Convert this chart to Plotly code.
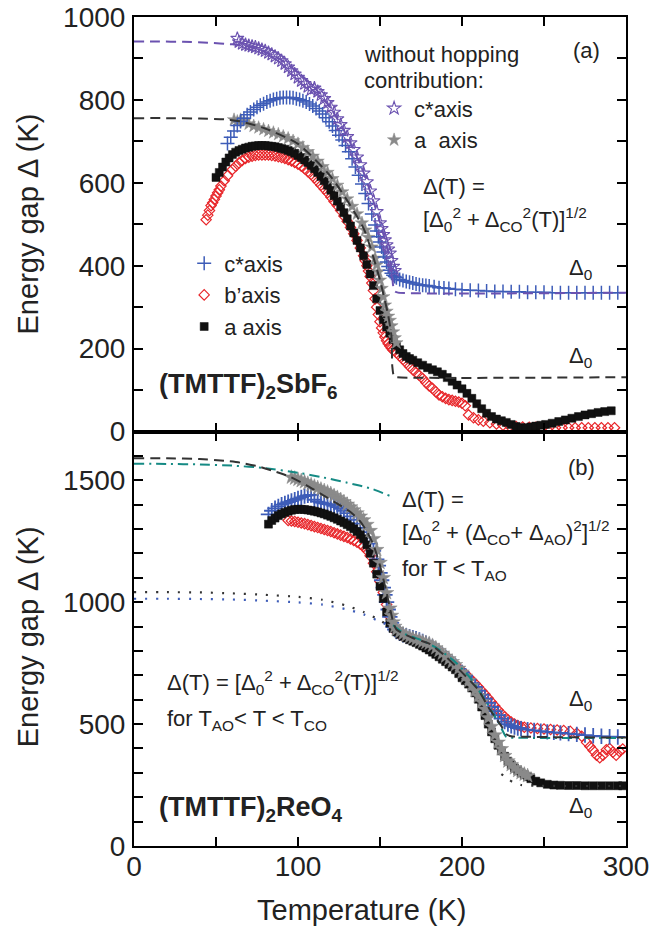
import plotly.graph_objects as go
from plotly.subplots import make_subplots

# ---------------- (a) (TMTTF)2SbF6 ----------------
# c* axis, measured (T [K], gap [K])
sbf6_cstar = [
    (57, 695), (59, 710), (61, 725), (63, 738), (65, 748), (67, 756), (69, 764), (71, 771),
    (73, 777), (75, 782), (77, 787), (79, 791), (81, 795), (83, 798), (85, 801), (87, 803),
    (89, 805), (91, 806), (93, 806), (95, 806), (97, 805), (99, 803), (101, 801), (103, 798),
    (105, 795), (107, 790), (109, 785), (111, 779), (113, 773), (115, 766), (117, 757), (119, 747),
    (121, 737), (123, 726), (125, 715), (127, 703), (129, 690), (131, 675), (133, 658), (135, 638),
    (137, 618), (139, 597), (141, 574), (143, 550), (145, 525), (147, 498), (148, 484), (149, 470),
    (150, 457), (151, 445), (152, 433), (153, 421), (154, 409), (155, 398), (156, 389), (157, 382),
    (158, 377), (159, 374), (160, 371), (162, 367), (164, 364), (166, 362), (168, 360), (170, 358),
    (172, 356), (174, 354), (176, 353), (178, 352), (180, 351), (183, 349), (186, 347), (189, 346),
    (192, 345), (196, 343), (200, 342), (205, 341), (210, 340), (215, 339), (220, 338), (225, 338),
    (230, 337), (235, 337), (240, 336), (245, 336), (250, 336), (255, 335), (260, 335), (265, 335),
    (270, 335), (275, 335), (280, 335), (285, 335), (290, 335), (295, 335),
]
# b' axis, measured
sbf6_bprime = [
    (44, 511), (45, 522), (46, 533), (47, 545), (48, 552), (49, 560), (50, 568), (51, 576),
    (52, 583), (53, 592), (55, 605), (57, 617), (60, 632), (62, 640), (64, 648), (66, 654),
    (68, 659), (70, 662), (72, 664), (74, 666), (76, 667), (78, 667), (80, 667), (82, 667),
    (84, 666), (86, 665), (88, 663), (90, 661), (92, 659), (94, 656), (96, 653), (98, 649),
    (100, 645), (102, 640), (104, 634), (106, 627), (108, 620), (110, 612), (112, 603), (114, 594),
    (116, 585), (118, 576), (120, 566), (122, 555), (124, 545), (126, 533), (128, 520), (130, 507),
    (132, 492), (134, 477), (136, 461), (138, 443), (140, 424), (141, 412), (142, 400), (143, 387),
    (144, 374), (145, 358), (146, 340), (147, 320), (148, 300), (149, 282), (150, 265), (151, 250),
    (152, 238), (153, 228), (154, 219), (155, 212), (156, 206), (157, 201), (158, 196), (160, 190),
    (162, 182), (164, 174), (166, 166), (168, 157), (170, 149), (172, 142), (174, 135), (176, 128),
    (178, 118), (180, 110), (182, 104), (184, 96), (186, 88), (188, 84), (190, 80), (192, 77),
    (194, 75), (196, 73), (198, 71), (200, 68), (202, 62), (204, 40), (207, 33), (210, 28),
    (213, 25), (217, 21), (221, 18), (225, 15), (229, 13), (233, 12), (237, 11), (241, 10),
    (245, 10), (249, 9), (253, 9), (257, 9), (261, 9), (265, 9), (269, 9), (273, 9),
    (277, 9), (281, 9), (285, 9), (289, 9), (293, 9),
]
# a axis, measured
sbf6_a = [
    (50, 613), (52, 625), (54, 638), (56, 650), (58, 660), (60, 668), (62, 674), (64, 678),
    (66, 681), (68, 684), (70, 686), (72, 688), (74, 689), (76, 690), (78, 690), (80, 690),
    (82, 689), (84, 688), (86, 687), (88, 685), (90, 683), (92, 681), (94, 678), (96, 675),
    (98, 671), (100, 666), (102, 661), (104, 655), (106, 649), (108, 642), (110, 634), (112, 625),
    (114, 615), (116, 605), (118, 594), (120, 582), (122, 569), (124, 556), (126, 542), (128, 528),
    (130, 513), (132, 496), (134, 479), (136, 461), (138, 443), (140, 424), (142, 403), (144, 380),
    (146, 352), (148, 320), (150, 292), (152, 270), (154, 252), (156, 237), (158, 222), (160, 208),
    (162, 197), (164, 188), (166, 181), (168, 176), (170, 172), (173, 166), (176, 160), (179, 154),
    (182, 149), (185, 144), (188, 138), (191, 130), (194, 121), (197, 112), (200, 103), (203, 92),
    (206, 80), (209, 67), (212, 55), (215, 44), (218, 36), (221, 30), (224, 26), (227, 22),
    (230, 17), (233, 12), (236, 9), (239, 9), (242, 11), (245, 13), (248, 15), (251, 17),
    (255, 20), (259, 24), (263, 28), (267, 32), (271, 36), (275, 40), (279, 43), (283, 46),
    (287, 48), (291, 50),
]
# without hopping contribution: c* axis
sbf6_cstar_nohop = [
    (63, 948), (64, 940), (66, 936), (68, 933), (70, 931), (72, 929), (74, 927), (76, 924),
    (78, 921), (80, 918), (82, 914), (84, 910), (86, 905), (88, 900), (90, 894), (92, 887),
    (94, 879), (96, 870), (98, 862), (100, 854), (102, 846), (104, 839), (106, 832), (108, 825),
    (110, 828), (112, 820), (114, 812), (116, 803), (118, 793), (120, 782), (122, 770), (124, 754),
    (126, 740), (128, 726), (130, 711), (132, 696), (134, 680), (136, 662), (138, 643), (140, 623),
    (142, 602), (144, 580), (146, 556), (148, 530), (150, 503), (151, 489), (152, 475), (153, 462),
    (154, 450), (155, 440), (156, 430), (157, 412), (158, 398), (159, 388),
]
# without hopping contribution: a axis
sbf6_a_nohop = [
    (61, 752), (63, 748), (65, 752), (67, 748), (70, 742), (73, 737), (76, 733), (79, 729),
    (82, 725), (85, 721), (88, 717), (91, 712), (94, 707), (97, 701), (100, 694), (103, 685),
    (106, 675), (109, 664), (112, 652), (115, 639), (118, 625), (121, 610), (124, 594), (127, 578),
    (130, 561), (133, 543), (136, 525), (139, 503), (141, 486), (143, 468), (145, 445), (147, 418),
    (148, 402), (149, 385), (150, 365), (151, 345), (152, 325), (153, 305), (154, 290), (155, 278),
    (156, 268), (157, 255), (158, 240), (159, 226), (160, 214),
]
# fits  Delta(T) = [Delta0^2 + Delta_CO^2(T)]^1/2
sbf6_fit_cstar = [
    (0, 941), (15, 941), (30, 940), (45, 938), (60, 934), (70, 928), (80, 916), (90, 896),
    (100, 866), (110, 830), (120, 780), (130, 712), (140, 625), (150, 505), (155, 432),
    (157, 395), (158, 352), (159, 338), (161, 335), (300, 335),
]
sbf6_fit_a = [
    (0, 756), (20, 756), (40, 755), (55, 753), (65, 748), (80, 731), (100, 694), (120, 615),
    (140, 490), (150, 365), (155, 280), (157, 229), (157.5, 157), (158.5, 133), (160, 131),
    (300, 131),
]

# ---------------- (b) (TMTTF)2ReO4 ----------------
reo4_cstar = [
    (82, 1360), (84, 1375), (86, 1385), (88, 1393), (90, 1400), (92, 1405), (94, 1410), (96, 1415),
    (98, 1420), (100, 1425), (102, 1430), (104, 1435), (106, 1438), (108, 1440), (110, 1420),
    (112, 1412), (114, 1408), (116, 1405), (118, 1402), (120, 1400), (122, 1395), (124, 1390),
    (126, 1383), (128, 1375), (130, 1365), (132, 1352), (134, 1338), (136, 1322), (138, 1305),
    (140, 1287), (142, 1265), (144, 1240), (146, 1210), (148, 1175), (149, 1150), (150, 1120),
    (151, 1090), (152, 1060), (153, 1030), (154, 1000), (155, 970), (156, 940), (157, 915),
    (158, 898), (159, 888), (160, 880), (162, 872), (164, 866), (166, 862), (168, 858), (170, 854),
    (172, 850), (174, 845), (176, 839), (178, 832), (180, 824), (182, 815), (184, 805), (186, 795),
    (188, 784), (190, 773), (192, 762), (194, 750), (196, 738), (198, 725), (200, 712), (202, 698),
    (204, 683), (206, 668), (208, 653), (210, 637), (212, 621), (214, 604), (216, 587), (218, 570),
    (220, 553), (222, 537), (224, 522), (226, 510), (228, 500), (230, 493), (232, 488), (234, 484),
    (236, 481), (240, 477), (244, 474), (248, 471), (252, 468), (256, 466), (260, 464), (265, 461),
    (270, 458), (275, 455), (280, 452), (285, 450), (290, 448), (295, 447),
]
reo4_bprime = [
    (94, 1335), (96, 1333), (98, 1331), (100, 1328), (102, 1325), (104, 1322), (106, 1318),
    (108, 1314), (110, 1310), (112, 1306), (114, 1302), (116, 1298), (118, 1294), (120, 1290),
    (122, 1285), (124, 1280), (126, 1275), (128, 1270), (130, 1265), (132, 1259), (134, 1253),
    (136, 1246), (138, 1238), (140, 1228), (142, 1212), (144, 1190), (146, 1160), (148, 1125),
    (150, 1085), (152, 1040), (154, 990), (156, 940), (158, 900), (160, 878), (162, 868),
    (164, 862), (166, 858), (168, 854), (170, 850), (172, 846), (174, 842), (176, 836), (178, 829),
    (180, 821), (182, 812), (184, 803), (186, 793), (188, 783), (190, 773), (192, 763), (194, 752),
    (196, 741), (198, 730), (200, 718), (202, 706), (204, 693), (206, 680), (208, 666), (210, 652),
    (212, 637), (214, 622), (216, 606), (218, 590), (220, 574), (222, 558), (224, 543), (226, 530),
    (228, 518), (230, 508), (232, 500), (234, 494), (236, 490), (238, 487), (242, 484), (246, 482),
    (250, 480), (254, 478), (258, 476), (262, 474), (266, 470), (270, 462), (273, 450), (276, 425),
    (278, 408), (280, 392), (282, 372), (284, 362), (286, 372), (288, 395), (290, 400), (292, 385),
    (294, 372), (296, 388), (298, 398),
]
reo4_a = [
    (82, 1320), (84, 1335), (86, 1345), (88, 1355), (90, 1362), (92, 1368), (94, 1373), (96, 1377),
    (98, 1380), (100, 1381), (102, 1381), (104, 1380), (106, 1378), (108, 1376), (110, 1373),
    (112, 1370), (114, 1366), (116, 1362), (118, 1357), (120, 1352), (122, 1346), (124, 1340),
    (126, 1333), (128, 1326), (130, 1318), (132, 1310), (134, 1301), (136, 1290), (138, 1277),
    (140, 1260), (142, 1235), (144, 1200), (146, 1160), (148, 1115), (150, 1065), (152, 1015),
    (154, 960), (156, 915), (158, 892), (160, 878), (162, 868), (164, 860), (166, 853), (168, 846),
    (170, 840), (172, 834), (174, 827), (176, 820), (178, 812), (180, 804), (182, 795), (184, 786),
    (186, 776), (188, 766), (190, 756), (192, 745), (194, 734), (196, 723), (198, 707), (200, 690),
    (202, 678), (204, 664), (206, 648), (208, 628), (210, 602), (212, 570), (214, 535), (216, 500),
    (218, 468), (220, 440), (222, 413), (224, 390), (226, 368), (228, 348), (230, 333), (232, 320),
    (234, 309), (236, 300), (238, 292), (240, 284), (242, 276), (245, 266), (248, 259), (252, 253),
    (256, 250), (260, 249), (265, 248), (270, 248), (275, 247), (280, 247), (285, 247), (290, 247),
    (295, 247), (298, 247),
]
reo4_a_nohop = [
    (96, 1512), (98, 1508), (100, 1503), (102, 1498), (104, 1493), (106, 1487), (108, 1481),
    (110, 1475), (112, 1469), (114, 1463), (116, 1457), (118, 1451), (120, 1445), (122, 1437),
    (124, 1429), (126, 1420), (128, 1411), (130, 1401), (132, 1390), (134, 1378), (136, 1365),
    (138, 1352), (140, 1337), (142, 1318), (144, 1293), (146, 1260), (148, 1215), (150, 1162),
    (152, 1100), (154, 1038), (156, 975), (157, 945), (158, 918), (159, 900), (160, 888),
    (162, 878), (164, 870), (166, 864), (168, 858), (170, 853), (172, 848), (174, 843), (176, 838),
    (178, 834), (180, 830), (182, 822), (184, 812), (186, 801), (188, 790), (190, 778), (192, 767),
    (194, 755), (196, 743), (198, 728), (200, 712), (202, 695), (204, 677), (206, 657), (208, 637),
    (210, 614), (212, 590), (214, 560), (216, 525), (218, 490), (220, 455), (222, 425), (224, 398),
    (226, 370), (228, 348), (230, 333), (232, 320), (234, 309), (236, 300), (238, 294), (240, 288),
]
# fit for T < T_AO (dashed) and extrapolations
reo4_fit_dash = [
    (0, 1590), (20, 1590), (40, 1587), (55, 1580), (65, 1572), (75, 1558), (85, 1538), (95, 1515),
    (105, 1480), (115, 1440), (125, 1400), (132, 1370), (138, 1330), (142, 1290), (146, 1235),
    (150, 1150), (154, 1040), (158, 920), (160, 888), (170, 853), (180, 830), (190, 778),
    (200, 712), (210, 640), (216, 570), (220, 530), (224, 492), (227, 458), (230, 450),
    (240, 448), (260, 446), (300, 445),
]
reo4_fit_dashdot_low = [
    (0, 1568), (20, 1567), (40, 1565), (60, 1560), (80, 1550), (100, 1531), (115, 1512),
    (130, 1490), (145, 1465), (156, 1436),
]
reo4_fit_dashdot_high = [
    (158, 905), (165, 870), (175, 845), (185, 810), (195, 760), (205, 690), (212, 620),
    (218, 555), (222, 510), (225, 470), (227, 447), (235, 444), (300, 443),
]
# Delta(T) = [Delta0^2 + Delta_CO^2(T)]^1/2 extrapolated below T_AO (dotted)
reo4_dot_a = [
    (0, 1041), (20, 1041), (40, 1040), (60, 1036), (80, 1030), (100, 1022), (115, 1010),
    (130, 985), (140, 960), (150, 925), (155, 905),
]
reo4_dot_a_high = [(224, 295), (228, 275), (232, 258), (236, 250), (245, 247), (300, 246)]
reo4_dot_c = [
    (0, 1014), (20, 1014), (40, 1013), (60, 1011), (80, 1006), (100, 999), (115, 990),
    (130, 970), (140, 950), (150, 920), (155, 905),
]

# axis ticks
x_ticks = [0, 100, 200, 300]
ya_ticks = [0, 200, 400, 600, 800, 1000]
yb_ticks = [0, 500, 1000, 1500]


def cols(pairs):
    return [p[0] for p in pairs], [p[1] for p in pairs]


BLUE = "#3d5cb8"
PURPLE = "#6b52b0"
GRAY = "#8a8a8a"
BLACK = "#111111"
RED = "#e8262a"
TEAL = "#158a84"
DARK = "#333333"
FONT = "Liberation Sans, Arial, sans-serif"

fig = make_subplots(rows=2, cols=1, shared_xaxes=True, vertical_spacing=0)


def markers(pairs, row, symbol, color, size, lw=1.2, name=None, legend=None, rank=None):
    x, y = cols(pairs)
    fig.add_trace(go.Scatter(
        x=x, y=y, mode="markers", name=name or "",
        showlegend=legend is not None, legend=legend or "legend",
        legendrank=rank or 1000,
        marker=dict(symbol=symbol, color=color, size=size,
                    line=dict(color=color, width=lw)),
        hoverinfo="skip"), row=row, col=1)


def curve(pairs, row, color, dash, width=2):
    x, y = cols(pairs)
    fig.add_trace(go.Scatter(
        x=x, y=y, mode="lines", showlegend=False,
        line=dict(color=color, dash=dash, width=width, shape="spline", smoothing=0.6),
        hoverinfo="skip"), row=row, col=1)


DASH = "10px,6px"
DASHDOT = "10px,5px,2px,5px"
DOT = "2px,9px"

# ---- panel (a)
markers(sbf6_bprime, 1, "diamond-open", RED, 8, 1.2, "b\u2019axis", "legend", 2)
markers(sbf6_a, 1, "square", BLACK, 8, 0.5, "a axis", "legend", 3)
markers(sbf6_a_nohop, 1, "star", GRAY, 10, 0.5, "a\u00a0\u00a0axis", "legend2", 2)
markers(sbf6_cstar, 1, "cross-thin-open", BLUE, 10, 1.5, "c*axis", "legend", 1)
curve(sbf6_fit_cstar, 1, PURPLE, DASH)
markers(sbf6_cstar_nohop, 1, "star-open", PURPLE, 10, 1.1, "c*axis", "legend2", 1)
curve(sbf6_fit_a, 1, DARK, DASH)

# ---- panel (b)
markers(reo4_bprime, 2, "diamond-open", RED, 8, 1.2)
markers(reo4_cstar, 2, "cross-thin-open", BLUE, 11, 1.8)
markers(reo4_a, 2, "square", BLACK, 8, 0.5)
markers(reo4_a_nohop, 2, "star", GRAY, 11, 0.5)
curve(reo4_dot_a, 2, DARK, DOT, 2.2)
curve(reo4_dot_a_high, 2, DARK, DOT, 2.2)
curve(reo4_dot_c, 2, BLUE, DOT, 2.2)
curve(reo4_fit_dashdot_low, 2, TEAL, DASHDOT)
curve(reo4_fit_dashdot_high, 2, TEAL, DASHDOT)
curve(reo4_fit_dash, 2, DARK, DASH)

axis_common = dict(
    showline=True, linecolor="black", linewidth=2, mirror="ticks",
    ticks="inside", ticklen=9, tickwidth=1.6, tickcolor="black",
    showgrid=False, zeroline=False, automargin=False,
    tickfont=dict(family=FONT, size=28, color="#222"),
)
fig.update_xaxes(range=[0, 300], tickvals=x_ticks,
                 minor=dict(dtick=50, ticks="inside", ticklen=9, tickwidth=1.6, tickcolor="black"),
                 **axis_common)
fig.update_xaxes(showticklabels=False, row=1, col=1)
fig.update_xaxes(ticklabelstandoff=-6, row=2, col=1)
fig.update_yaxes(range=[0, 1000], tickvals=ya_ticks, ticklabelstandoff=1,
                 minor=dict(dtick=100, ticks="inside", ticklen=9, tickwidth=1.6, tickcolor="black"),
                 row=1, col=1, **axis_common)
fig.update_yaxes(range=[0, 1700], tickvals=yb_ticks, ticklabelstandoff=1,
                 minor=dict(dtick=100, ticks="inside", ticklen=9, tickwidth=1.6, tickcolor="black"),
                 row=2, col=1, **axis_common)

TXT = dict(family=FONT, size=22, color="#222")


def note(text, x, y, row, xanchor="left", size=22, bold=False):
    ax = "" if row == 1 else "2"
    t = f"<b>{text}</b>" if bold else text
    fig.add_annotation(text=t, x=x, y=y, xref="x" + ax, yref="y" + ax,
                       xanchor=xanchor, yanchor="middle", showarrow=False,
                       font=dict(family=FONT, size=size, color="#222"))


# panel (a) labels
note("(a)", 276, 920, 1, "center")
note("without hopping", 139, 910, 1)
note("contribution:", 139, 848, 1)
note("\u0394(T) =", 175, 590, 1)
note("[\u0394<sub>0</sub><sup>2</sup> + \u0394<sub>CO</sub><sup>2</sup>(T)]<sup>1/2</sup>", 175, 511, 1)
note("\u0394<sub>0</sub>", 272, 392, 1, "center")
note("\u0394<sub>0</sub>", 272, 180, 1, "center")
note("(TMTTF)<sub>2</sub>SbF<sub>6</sub>", 14, 110, 1, size=27, bold=True)

# panel (b) labels
note("(b)", 273, 1554, 2, "center")
note("\u0394(T) =", 162, 1422, 2)
note("[\u0394<sub>0</sub><sup>2</sup> + (\u0394<sub>CO</sub>+ \u0394<sub>AO</sub>)<sup>2</sup>]<sup>1/2</sup>",
     162, 1286, 2)
note("for T &lt; T<sub>AO</sub>", 162, 1134, 2)
note("\u0394(T) = [\u0394<sub>0</sub><sup>2</sup> + \u0394<sub>CO</sub><sup>2</sup>(T)]<sup>1/2</sup>",
     19, 670, 2)
note("for T<sub>AO</sub>&lt; T &lt; T<sub>CO</sub>", 19, 518, 2)
note("\u0394<sub>0</sub>", 272, 600, 2, "center")
note("\u0394<sub>0</sub>", 272, 160, 2, "center")
note("(TMTTF)<sub>2</sub>ReO<sub>4</sub>", 14, 150, 2, size=27, bold=True)

# axis titles
for yc in (0.75, 0.252):
    fig.add_annotation(text="Energy gap \u0394 (K)", xref="paper", yref="paper",
                       x=-0.215, y=yc, xanchor="center", yanchor="middle",
                       textangle=-90, showarrow=False,
                       font=dict(family=FONT, size=29, color="#222"))
fig.add_annotation(text="Temperature (K)", xref="paper", yref="paper",
                   x=0.463, y=-0.077, xanchor="center", yanchor="middle",
                   showarrow=False, font=dict(family=FONT, size=29, color="#222"))

fig.update_layout(
    width=660, height=928,
    margin=dict(l=134, r=34, t=17, b=82, autoexpand=False),
    paper_bgcolor="white", plot_bgcolor="white",
    legend=dict(x=0.102, y=0.728, xanchor="left", yanchor="top",
                bgcolor="rgba(0,0,0,0)", font=TXT, tracegroupgap=0,
                itemsizing="trace"),
    legend2=dict(x=0.488, y=0.915, xanchor="left", yanchor="top",
                 bgcolor="rgba(0,0,0,0)", font=TXT, tracegroupgap=0,
                 itemsizing="trace"),
)

fig.write_html("out.html")
